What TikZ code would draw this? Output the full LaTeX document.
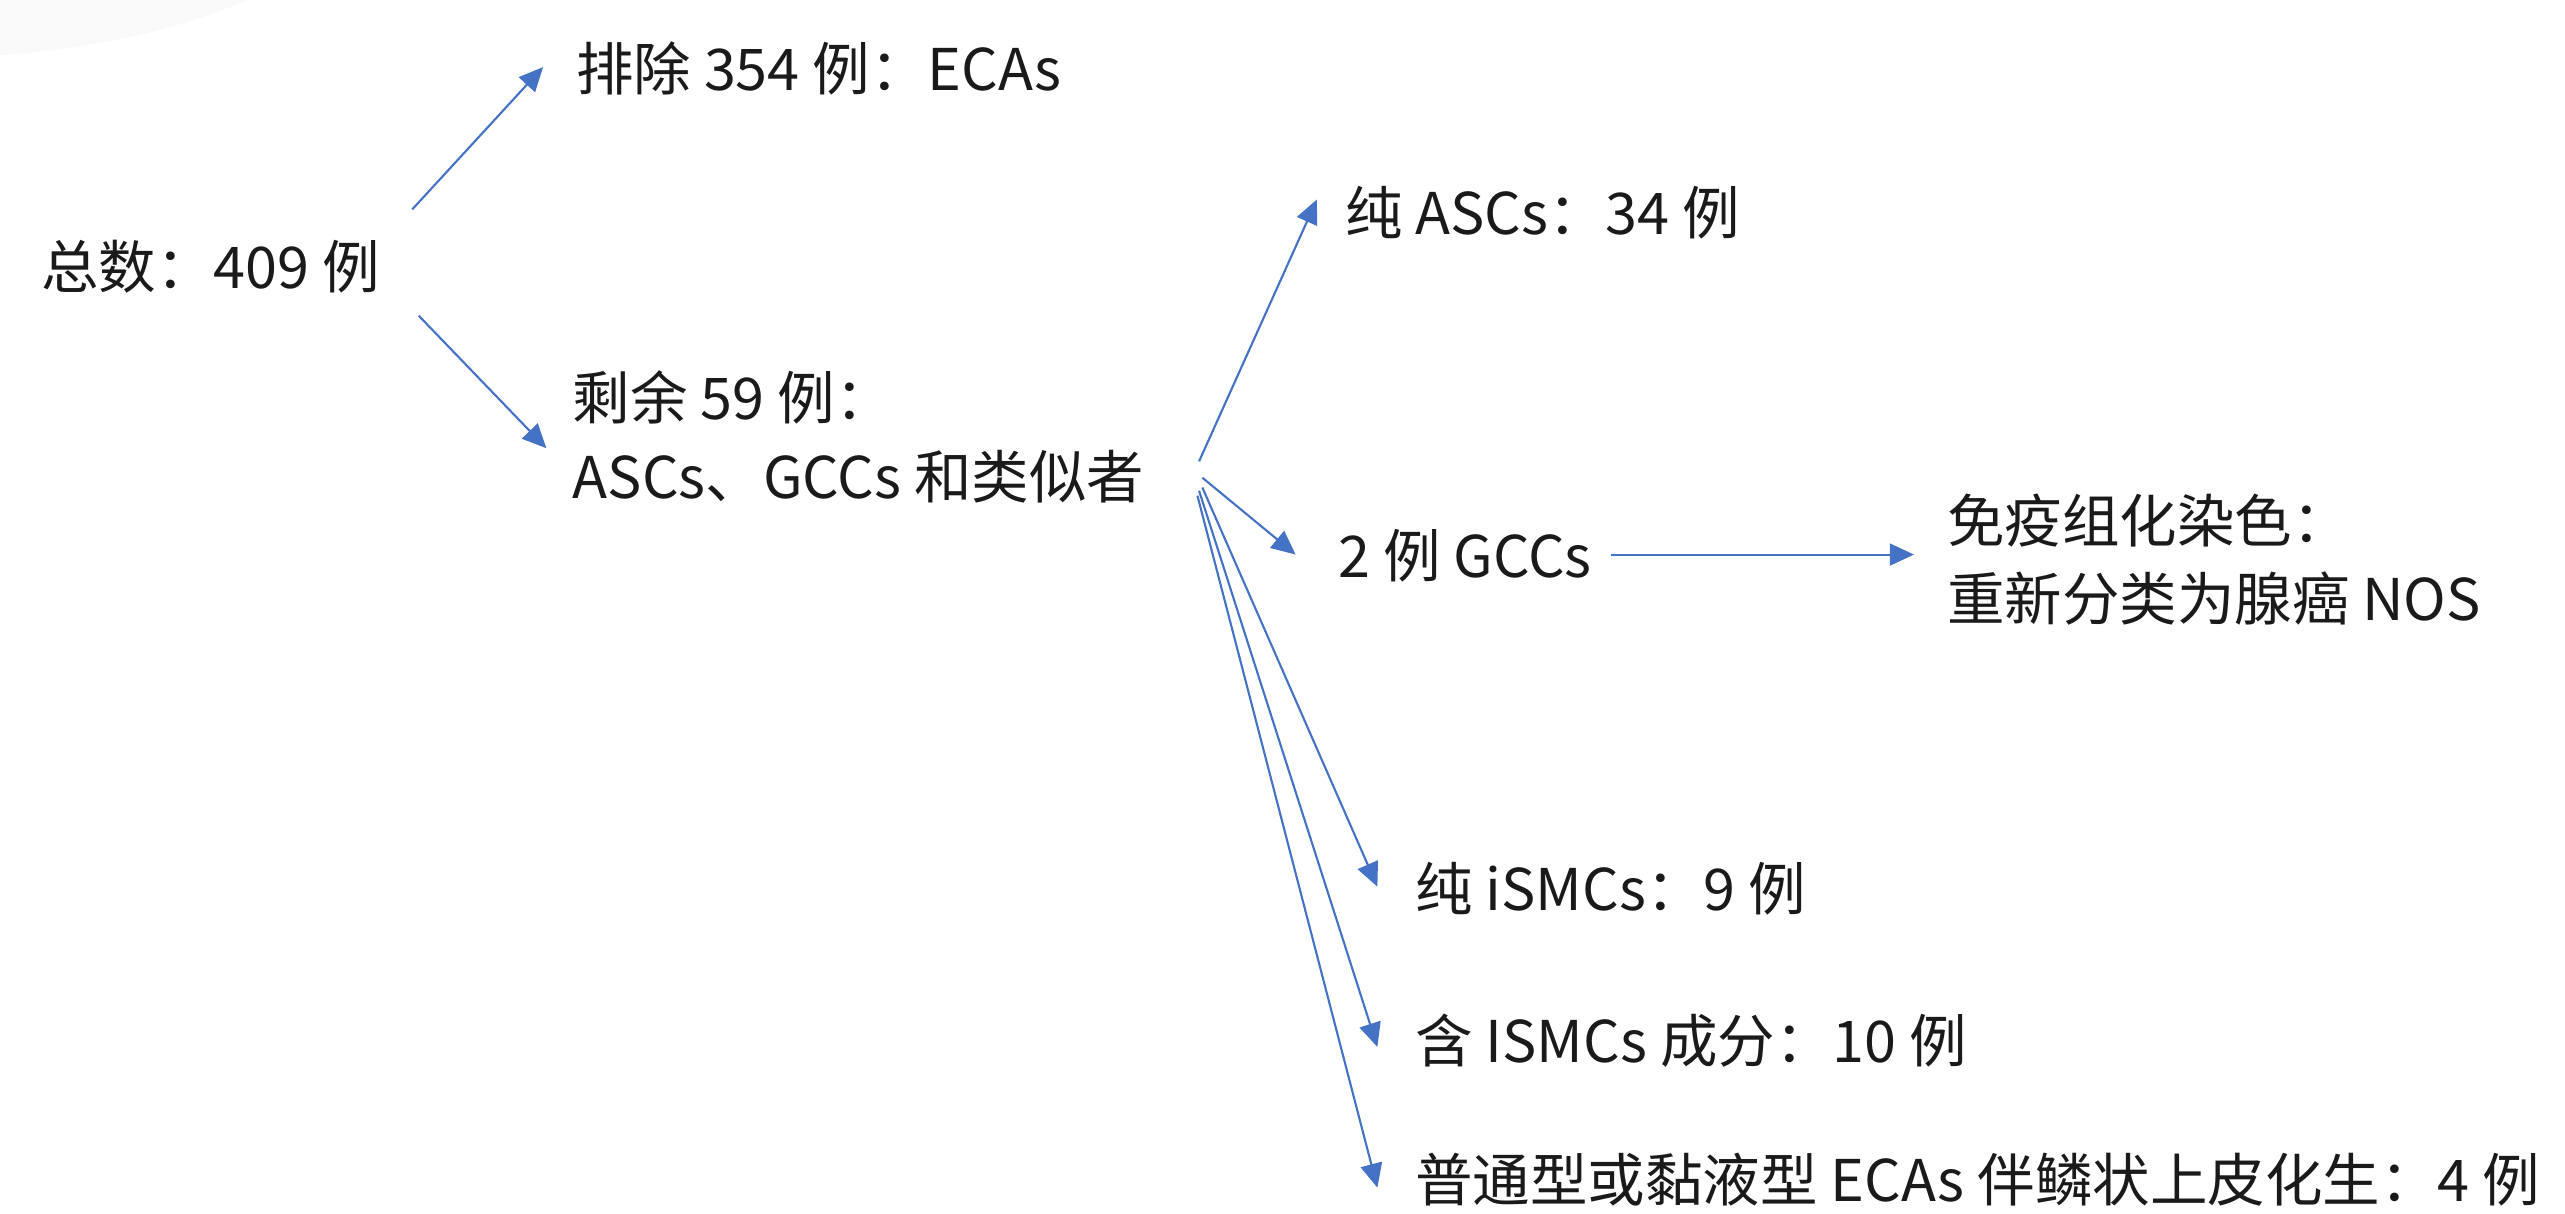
\documentclass[tikz,border=0pt]{standalone}
\usepackage{fontspec}
\setmainfont{Noto Sans CJK SC}
\usetikzlibrary{arrows.meta}
\definecolor{arrowblue}{HTML}{4472C4}
\definecolor{txt}{HTML}{1A1A1A}
\begin{document}
\begin{tikzpicture}[x=0.03cm,y=-0.03cm,
  lbl/.style={anchor=west,inner sep=0pt,text=txt,font=\fontsize{30}{41}\selectfont,align=left},
  conn/.style={draw=arrowblue,line width=1.1pt,-{Triangle[length=0.44cm,width=0.4cm]}}]
\useasboundingbox (0,0) rectangle (1568,742);
\fill[gray!5] (-40,-100) ellipse [x radius=285, y radius=135];
% nodes
\node[lbl] (total) at (25,163) {总数：409 例};
\node[lbl] (excl) at (352,42) {排除 354 例：ECAs};
\node[lbl] (rem) at (350,267) {剩余 59 例：\\ASCs、GCCs 和类似者};
\node[lbl] (pasc) at (822,130) {纯 ASCs：34 例};
\node[lbl] (gcc) at (818,340) {2 例 GCCs};
\node[lbl] (ihc) at (1190,342) {免疫组化染色：\\重新分类为腺癌 NOS};
\node[lbl] (pism) at (865,543) {纯 iSMCs：9 例};
\node[lbl] (cism) at (865,636) {含 ISMCs 成分：10 例};
\node[lbl] (ecas) at (865,721) {普通型或黏液型 ECAs 伴鳞状上皮化生：4 例};
% connector ends
\coordinate (t1) at (252,128);
\coordinate (t2) at (256,193);
\coordinate (e1) at (332,41);
\coordinate (r1) at (334,274);
\coordinate (ra) at (733,282);
\coordinate (rb) at (735,292);
\coordinate (rc) at (735,298);
\coordinate (rd) at (733,300);
\coordinate (re) at (732,303);
\coordinate (pa) at (805,122);
\coordinate (ga) at (792,339);
\coordinate (go) at (985,339);
\coordinate (ia) at (1170,339);
\coordinate (pi) at (842,542);
\coordinate (ci) at (842,640);
\coordinate (ei) at (842,726);
% connectors
\draw[conn] (t1) -- (e1);
\draw[conn] (t2) -- (r1);
\draw[conn] (ra) -- (pa);
\draw[conn] (rb) -- (ga);
\draw[conn] (go) -- (ia);
\draw[conn] (rc) -- (pi);
\draw[conn] (rd) -- (ci);
\draw[conn] (re) -- (ei);
\end{tikzpicture}
\end{document}
